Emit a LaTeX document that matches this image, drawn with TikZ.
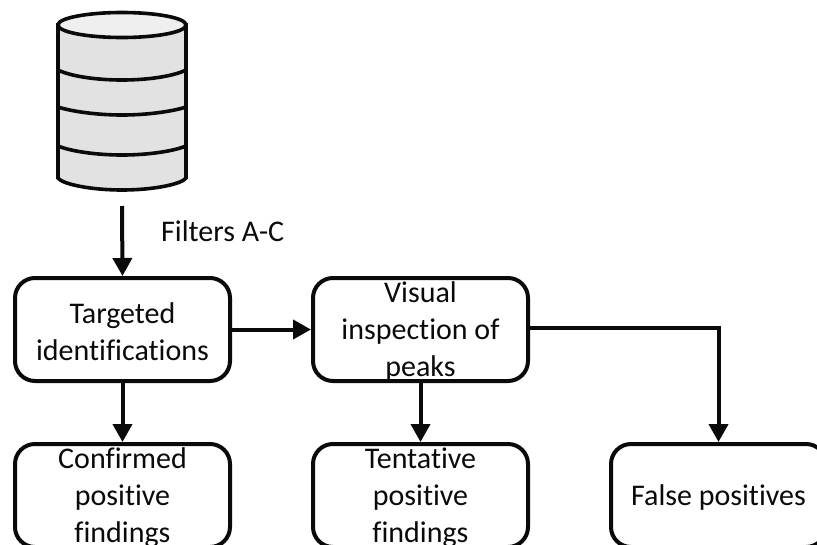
\documentclass[tikz,border=0pt]{standalone}
\usepackage{fontspec}
\setmainfont[Ligatures=NoCommon]{Carlito}
\usetikzlibrary{arrows.meta,calc}
\definecolor{dbside}{HTML}{E2E2E2}
\definecolor{dbtop}{HTML}{EFEFEF}
\definecolor{ink}{HTML}{0A0A0A}
\newcommand{\lowerline}[1]{\raisebox{-2pt}[\height][\depth]{#1}}
\tikzset{
  x=1pt,y=-1pt,
  flowbox/.style={draw=ink,line width=4pt,rounded corners=20pt,minimum width=215pt,minimum height=103pt,inner sep=0pt,align=center,font=\fontsize{30}{37}\selectfont,text=ink,anchor=center},
  flowarrow/.style={draw=ink,line width=4pt,-{Triangle[length=18pt,width=19pt]}},
  dbline/.style={draw=ink,line width=3.6pt},
  plain/.style={font=\fontsize{30}{37}\selectfont,text=ink,inner sep=0pt}
}
\begin{document}
\begin{tikzpicture}
\useasboundingbox (0,0) rectangle (817,544);
\clip (0,0) rectangle (817,544);
% database
\path[dbline,fill=dbside] (58,25) -- (58,178) .. controls (62,184) and (90,190) .. (122,190) .. controls (154,190) and (182,184) .. (186,178) -- (186,25) -- cycle;
\path[dbline,fill=dbtop] (122,25) ellipse [x radius=64,y radius=12.5];
\path[dbline] (58,70) .. controls (70,76) and (95,80) .. (122,80) .. controls (149,80) and (174,76) .. (186,70);
\path[dbline] (58,107) .. controls (70,111) and (95,115) .. (122,115) .. controls (149,115) and (174,111) .. (186,107);
\path[dbline] (58,146) .. controls (70,151) and (95,155) .. (122,155) .. controls (149,155) and (174,151) .. (186,146);
\coordinate (dbout) at (122,206);
\node[plain,anchor=west] (filters) at (161,231) {Filters A-C};
% boxes
\node[flowbox] (target) at (122.5,329.5) {\lowerline{Targeted}\\\lowerline{identifications}};
\node[flowbox] (visual) at (420.5,329.5) {\lowerline{Visual}\\\lowerline{inspection of}\\\lowerline{peaks}};
\node[flowbox] (confirmed) at (122.5,495.5) {\lowerline{Confirmed}\\\lowerline{positive}\\\lowerline{findings}};
\node[flowbox] (tentative) at (420.5,495.5) {\lowerline{Tentative}\\\lowerline{positive}\\\lowerline{findings}};
\node[flowbox] (false) at (718.5,495.5) {\lowerline{False positives}};
% connectors
\draw[flowarrow] (dbout) -- (target.north);
\draw[flowarrow] (target.east) -- (visual.west);
\draw[flowarrow] (target.south) -- (confirmed.north);
\draw[flowarrow] (visual.south) -- (tentative.north);
\draw[flowarrow,rounded corners=0pt] ($(visual.east)+(0,-2)$) -| (false.north);
\end{tikzpicture}
\end{document}
